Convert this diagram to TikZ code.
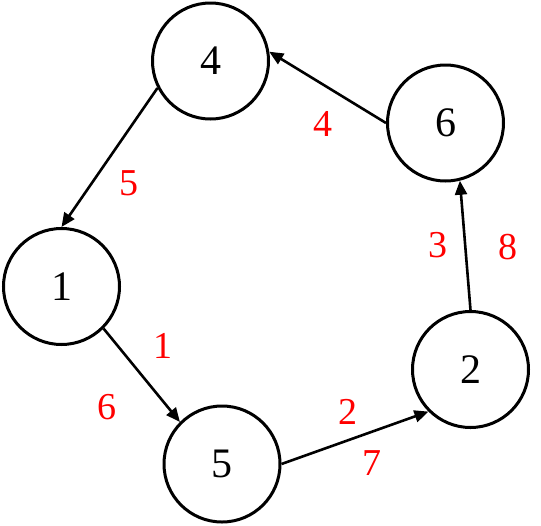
\documentclass[tikz,border=0pt]{standalone}
\usepackage{fontspec}
\setmainfont{Liberation Serif}
\usetikzlibrary{arrows.meta,positioning}

\begin{document}
\begin{tikzpicture}[x=0.5pt, y=-0.5pt,
        vert/.style={draw, circle, line width=1.5pt, minimum size=58pt, inner sep=0pt, font=\fontsize{21}{21}\selectfont},
        arco/.style={-{Triangle[length=7pt, width=6pt]}, line width=1.3pt},
        peso/.style={text=red, inner sep=0pt, font=\fontsize{19}{19}\selectfont}
    ]
        \useasboundingbox (0,0) rectangle (541,525);
        % vertices
        \node (n4) [vert] at (210.5, 61)  {4};
        \node (n6) [vert] at (445.5, 123) {6};
        \node (n1) [vert] at (61.5, 286.5) {1};
        \node (n2) [vert] at (470.5, 369.5) {2};
        \node (n5) [vert] at (222, 464)   {5};
        % aristas
        \draw[arco] (n4.207) -- (n1.90);
        \draw[arco] (n1.-45) -- (n5.135);
        \draw[arco] (n5.0) -- (n2.225);
        \draw[arco] (n2.90) -- (n6.-76);
        \draw[arco] (n6.180) -- (n4.9);
        % pesos
        \node (p41) [peso] at (129, 183) {5};
        \node (p64) [peso] at (323, 124) {4};
        \node (p15a) [peso] at (163, 346) {1};
        \node (p15b) [peso] at (107, 407) {6};
        \node (p52a) [peso] at (348, 412) {2};
        \node (p52b) [peso] at (372, 463) {7};
        \node (p26a) [peso] at (438, 245) {3};
        \node (p26b) [peso] at (508, 247) {8};
    \end{tikzpicture}
\end{document}
